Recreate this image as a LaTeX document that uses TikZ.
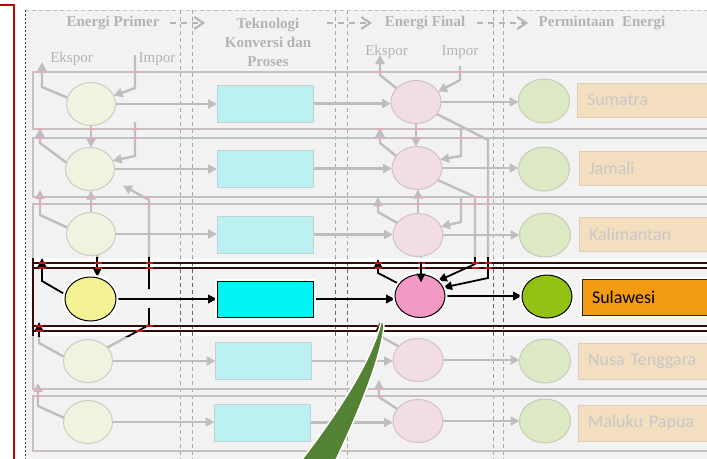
\documentclass[tikz,border=0pt]{standalone}
\usepackage{fontspec}
\setmainfont{Liberation Serif}
\newfontfamily\lblfont{Carlito}
\usetikzlibrary{shapes.geometric,arrows.meta}

\pgfdeclarelayer{panel}
\pgfdeclarelayer{fconn}
\pgfdeclarelayer{band}
\pgfdeclarelayer{hconn}
\pgfdeclarelayer{hnode}
\pgfdeclarelayer{front}
\pgfsetlayers{panel,fconn,main,band,hconn,hnode,front}

\definecolor{panelbg}{HTML}{F2F2F2}
\definecolor{bandbg}{HTML}{F3F3F3}
\definecolor{framered}{HTML}{C00000}
\definecolor{seplinec}{HTML}{A9A9A9}
\definecolor{rowline}{HTML}{C8C0C0}
\definecolor{darkrow}{HTML}{350A0A}
\definecolor{arrowgray}{HTML}{BEBEBE}
\definecolor{headgray}{HTML}{B4B4B4}
\definecolor{markpink}{HTML}{E2B0B0}
\definecolor{markred}{HTML}{C81414}
\definecolor{primfade}{HTML}{F1F2E0}
\definecolor{primedge}{HTML}{CDCDC2}
\definecolor{techfade}{HTML}{BDF0F0}
\definecolor{techedge}{HTML}{BFD3D3}
\definecolor{finfade}{HTML}{F2DDE6}
\definecolor{finedge}{HTML}{CFC3C8}
\definecolor{demfade}{HTML}{DDE8C4}
\definecolor{demedge}{HTML}{C6CDBC}
\definecolor{regfade}{HTML}{F3DFC0}
\definecolor{regedge}{HTML}{DCCDB6}
\definecolor{regtext}{HTML}{C8C8C8}
\definecolor{primhi}{HTML}{F3F396}
\definecolor{techhi}{HTML}{00F4F4}
\definecolor{finhi}{HTML}{F29AC5}
\definecolor{demhi}{HTML}{94C214}
\definecolor{reghi}{HTML}{F39C12}
\definecolor{calloutgreen}{HTML}{548235}

% connectors that run through the highlighted Sulawesi band
% #1 = style with arrow tip, #2 = plain style
\newcommand{\bandpaths}[2]{%
  \draw[#2] (p5.35) -- (149,325) -- (149,308);
  \draw[#1, shorten >=13pt] (149,289) -- (149,200) -- (p2.335);
  \draw[#1] (p3.287) -- (p3.287 |- p4.north);
  \draw[#1] (f1.330) -- (488,140) -- (488,278) -- (f4.20);
  \draw[#1] (f2.330) -- (475,197) -- (475,264) -- (f4.40);
  \draw[#1] (p5.170) -- (39,343) -- (ekP5);
  \draw[#1] (f5.145) -- (380,336) -- (ekF5);
}

\begin{document}
\begin{tikzpicture}[x=1pt,y=-1pt,
  every node/.style={inner sep=0pt, outer sep=0pt},
  primf/.style={ellipse, draw=primedge, fill=primfade, line width=1pt, minimum width=49pt, minimum height=43pt},
  techf/.style={rectangle, draw=techedge, fill=techfade, line width=1pt, minimum width=96pt, minimum height=37pt},
  finf/.style={ellipse, draw=finedge, fill=finfade, line width=1pt, minimum width=50pt, minimum height=43pt},
  demf/.style={ellipse, draw=demedge, fill=demfade, line width=1pt, minimum width=51pt, minimum height=44pt},
  regf/.style={rectangle, draw=regedge, fill=regfade, line width=1pt, anchor=west, minimum height=35pt,
    text width=124pt, inner xsep=10pt, align=left, font=\lblfont\fontsize{18}{20}\selectfont, text=regtext},
  halo/.style={preaction={draw=white, line width=5pt}},
  primh/.style={primf, halo, draw=black, fill=primhi, minimum width=51pt, minimum height=44pt},
  techh/.style={techf, halo, draw=black, fill=techhi, minimum height=36pt},
  finh/.style={finf, halo, draw=black, fill=finhi},
  demh/.style={demf, halo, draw=black, fill=demhi, minimum width=50pt, minimum height=43pt},
  regh/.style={regf, halo, draw=black!85, fill=reghi, text=black, minimum height=36pt},
  fa/.style={draw=arrowgray, line width=2.4pt, -{Triangle[length=9pt,width=9pt]}},
  fl/.style={draw=arrowgray, line width=2.4pt},
  hl/.style={draw=black, line width=1.8pt, -{Triangle[length=9pt,width=8.5pt]}},
  hn/.style={draw=black, line width=1.8pt},
  rowl/.style={draw=rowline, line width=1.5pt},
  darkl/.style={draw=darkrow, line width=1.5pt},
  colsep/.style={draw=seplinec, line width=0.7pt, dash pattern=on 4pt off 3pt},
  hd/.style={font=\bfseries\fontsize{15}{19}\selectfont, text=headgray},
  io/.style={font=\fontsize{15}{18}\selectfont, text=headgray},
  hdarrow/.style={draw=headgray, line width=2pt, dash pattern=on 6pt off 5pt,
    -{Straight Barb[length=9pt,width=12pt,line width=2pt]}}
]
\useasboundingbox (0,0) rectangle (707,458);

% ---------- panel, frame and column separators ----------
\begin{pgfonlayer}{panel}
  \fill[white] (0,0) rectangle (707,458);
  \fill[panelbg] (25,10) rectangle (720,470);
  \draw[framered, line width=2.5pt] (0,5) -- (14,5) -- (14,470);
  \draw[seplinec!70, dash pattern=on 4pt off 3pt, line width=0.7pt] (25,10) -- (720,10);
  \draw[black!75, dash pattern=on 2pt off 2pt, line width=0.8pt] (25,10) -- (25,470);
  \foreach \cx in {180,192,335,347,493,503}
    \draw[colsep] (\cx,10) -- (\cx,470);
  \foreach \ya/\yb in {72/129,138/197,204/263,331/389,396/451}
    \draw[rowl] (720,\ya) -- (33,\ya) -- (33,\yb) -- (720,\yb);
\end{pgfonlayer}

% ---------- free ends of the import / export arrows ----------
\coordinate (ekP1) at (42,62);   \coordinate (imP1) at (135,55);
\coordinate (ekP2) at (40,128);  \coordinate (imP2) at (135,122);
\coordinate (ekP3) at (40,190);
\coordinate (ekP4) at (42,258);
\coordinate (ekP5) at (39,322);
\coordinate (ekP6) at (38,383);
\coordinate (ekF1) at (380,55);  \coordinate (imF1) at (460,66);
\coordinate (ekF2) at (380,128); \coordinate (imF2) at (461,130);
\coordinate (ekF3) at (378,197); \coordinate (imF3) at (461,197);
\coordinate (ekF4) at (378,259);
\coordinate (ekF5) at (380,322);
\coordinate (ekF6) at (379,380);
\coordinate (bandtop) at (0,262);

% ---------- headers ----------
\node[hd] (hP) at (113,23) {Energi Primer};
\node[hd, align=center] (hT) at (268,42) {Teknologi\\Konversi dan\\Proses};
\node[hd] (hF) at (425,23) {Energi Final};
\node[hd] (hD) at (602,23) {Permintaan\ \ Energi};
\coordinate (ha1) at (170,23); \coordinate (hb1) at (205,23);
\coordinate (ha2) at (327,23); \coordinate (hb2) at (372,23);
\coordinate (ha3) at (477,23); \coordinate (hb3) at (528,23);
\draw[hdarrow] (ha1) -- (hb1);
\draw[hdarrow] (ha2) -- (hb2);
\draw[hdarrow] (ha3) -- (hb3);
\node[io] (tEkP) at (71.5,59) {Ekspor};
\node[io] (tImP) at (157,59) {Impor};
\node[io] (tEkF) at (386.5,52) {Ekspor};
\node[io] (tImF) at (460,52) {Impor};

% ---------- faded rows ----------
\node[primf] (p1) at (91,104) {};
\node[primf] (p2) at (90,169) {};
\node[primf] (p3) at (91,234) {};
\node[primf] (p5) at (88,361) {};
\node[primf] (p6) at (88,422) {};
\node[techf] (t1) at (265,103.5) {};
\node[techf] (t2) at (265,168.5) {};
\node[techf] (t3) at (265,234.5) {};
\node[techf] (t5) at (263.5,361) {};
\node[techf] (t6) at (262.5,422.5) {};
\node[finf] (f1) at (416,102) {};
\node[finf] (f2) at (417,168) {};
\node[finf] (f3) at (418,235) {};
\node[finf] (f5) at (418,360) {};
\node[finf] (f6) at (418,421) {};
\node[demf] (d1) at (544,101) {};
\node[demf] (d2) at (544,169) {};
\node[demf] (d3) at (545,235) {};
\node[demf] (d5) at (545,361) {};
\node[demf] (d6) at (545,421) {};
\node[regf, minimum height=34pt] (l1) at (577,100) {Sumatra};
\node[regf, minimum height=34pt] (l2) at (579,168) {Jamali};
\node[regf, minimum height=34pt] (l3) at (579,234) {Kalimantan};
\node[regf, minimum height=36pt] (l5) at (578,361) {Nusa Tenggara};
\node[regf, minimum height=36pt] (l6) at (578,423) {Maluku Papua};

% ---------- highlighted row (Sulawesi) ----------
\begin{pgfonlayer}{hnode}
  \node[primh] (p4) at (90.5,299) {};
  \node[techh] (t4) at (265,299) {};
  \node[finh]  (f4) at (420,296) {};
  \node[demh]  (d4) at (547,296.5) {};
  \node[regh]  (l4) at (582,297) {Sulawesi};
\end{pgfonlayer}

% ---------- faded connectors ----------
\begin{pgfonlayer}{fconn}
  \draw[fa] (p1.165) -- (42,87) -- (ekP1);
  \draw[fa] (imP1) -- (135,88) -- (p1.20);
  \draw[fa] (p1.south) -- (p1.south |- p2.north);
  \draw[fa] (p2.165) -- (40,143) -- (ekP2);
  \draw[fa] (imP2) -- (135,156) -- (p2.20);
  \draw[fa] (p3.165) -- (40,215) -- (ekP3);
  \draw[fa] (p3.north) -- (p3.north |- p2.south);
  \draw[fa] (p6.170) -- (38,406) -- (ekP6);
  \draw[fa] (f1.145) -- (380,75) -- (ekF1);
  \draw[fa] (imF1) -- (460,80) -- (f1.25);
  \draw[fa] (f1.south) -- (f1.south |- f2.north);
  \draw[fa] (f2.150) -- (380,143) -- (ekF2);
  \draw[fa] (imF2) -- (461,156) -- (f2.20);
  \draw[fa] (f3.150) -- (378,212) -- (ekF3);
  \draw[fa] (imF3) -- (461,222) -- (f3.20);
  \draw[fa] (f3.north) -- (f3.north |- f2.south);
  \draw[fa] (f6.150) -- (379,397) -- (ekF6);
  \draw[fl] (f3.278) -- (f3.278 |- bandtop);
  \foreach \i in {1,2,3,5,6} {
    \draw[fa] (p\i.east) -- (p\i.east -| t\i.west);
    \draw[fa] (t\i.east) -- (t\i.east -| f\i.west);
    \draw[fa] (f\i.east) -- (f\i.east -| d\i.west);
  }
  \bandpaths{fa}{fl}
\end{pgfonlayer}

% crossing marks on the faded row lines
\foreach \mx/\my in {42/72,135/72,380/72,460/72,
    40/129,40/138,92/129,92/138,135/129,135/138,380/129,380/138,417/129,417/138,461/138,
    40/197,40/204,92/197,92/204,149/197,149/204,378/204,418/197,418/204,461/204,
    475/197,475/204,488/197,488/204,38/389,38/396,379/389,379/396}
  \fill[markpink] (\mx-3.5,\my-0.9) rectangle (\mx+3.5,\my+0.9);

% ---------- highlight band ----------
\begin{pgfonlayer}{band}
  \fill[white] (28,258) rectangle (720,336);
  \fill[bandbg] (33,268) rectangle (720,326);
  \begin{scope}
    \clip (0,258) rectangle (720,336);
    \foreach \cx in {180,192,335,347,493,503}
      \draw[colsep, draw=black!60] (\cx,10) -- (\cx,470);
  \end{scope}
  \draw[darkl] (33,258) -- (33,336);
  \foreach \ly in {263,268,326,331}
    \draw[darkl] (33,\ly) -- (720,\ly);
\end{pgfonlayer}

% ---------- highlighted connectors ----------
\begin{pgfonlayer}{hconn}
  \draw[hl] (p4.170) -- (42,281) -- (ekP4);
  \draw[hl] (f4.150) -- (378,273) -- (ekF4);
  \draw[hl] (p4.east) -- (p4.east -| t4.west);
  \draw[hl] (t4.east) -- (t4.east -| f4.west);
  \draw[hl] (f4.east) -- (f4.east -| d4.west);
  \begin{scope}
    \clip (0,257.5) rectangle (720,336);
    \bandpaths{hl}{hn}
  \end{scope}
  \foreach \mx/\my in {42/263,42/268,98/263,98/268,149/263,149/268,378/263,378/268,
      421.5/263,421.5/268,475/263,475/268,488/263,488/268,
      39/326,39/331,149/326,139/331,380/326,380/331}
    \fill[markred] (\mx-3.5,\my-1) rectangle (\mx+3.5,\my+1);
\end{pgfonlayer}

% ---------- arrow into the highlighted final-energy node, and callout ----------
\begin{pgfonlayer}{front}
  \draw[hl, shorten >=-8pt] (f3.278 |- bandtop) -- (f3.278 |- f4.north);
  \fill[calloutgreen, draw=white, line width=1.5pt]
    (381,322) .. controls (372,360) and (340,410) .. (300,462)
    -- (335,462) .. controls (360,410) and (384,350) .. (384,323) -- cycle;
\end{pgfonlayer}
\end{tikzpicture}
\end{document}
